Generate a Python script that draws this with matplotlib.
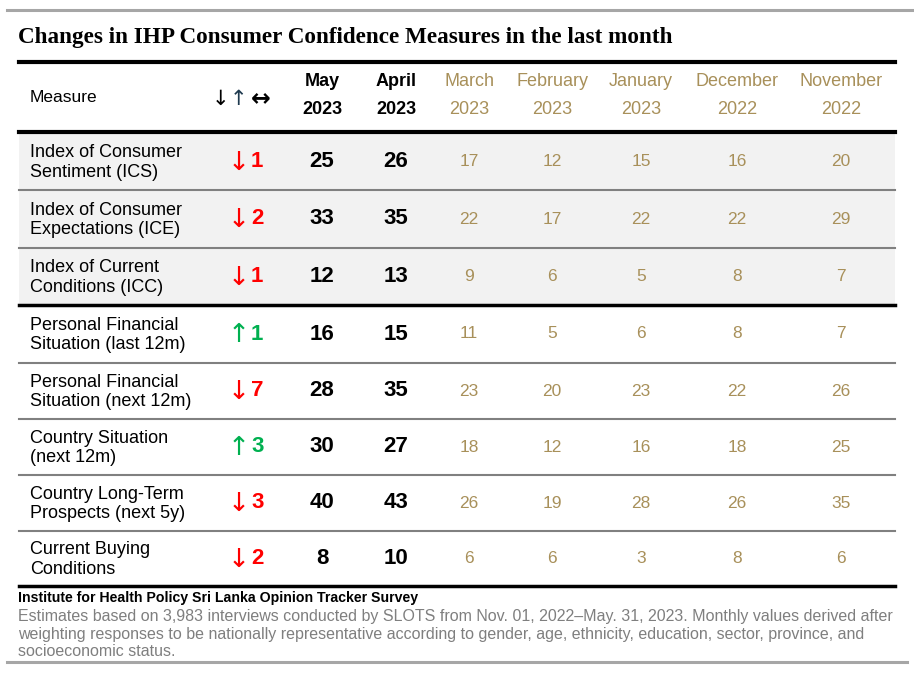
import numpy as np
import matplotlib.pyplot as plt

# table data
measures = ["Index of Consumer\nSentiment (ICS)",
            "Index of Consumer\nExpectations (ICE)",
            "Index of Current\nConditions (ICC)",
            "Personal Financial\nSituation (last 12m)",
            "Personal Financial\nSituation (next 12m)",
            "Country Situation\n(next 12m)",
            "Country Long-Term\nProspects (next 5y)",
            "Current Buying\nConditions"]
may_2023 = [25, 33, 12, 16, 28, 30, 40, 8]
april_2023 = [26, 35, 13, 15, 35, 27, 43, 10]
march_2023 = [17, 22, 9, 11, 23, 18, 26, 6]
february_2023 = [12, 17, 6, 5, 20, 12, 19, 6]
january_2023 = [15, 22, 5, 6, 23, 16, 28, 3]
december_2022 = [16, 22, 8, 8, 22, 18, 26, 8]
november_2022 = [20, 29, 7, 7, 26, 25, 35, 6]

old_months = ["March\n2023", "February\n2023", "January\n2023", "December\n2022", "November\n2022"]
old_values = [march_2023, february_2023, january_2023, december_2022, november_2022]

title = "Changes in IHP Consumer Confidence Measures in the last month"
source = "Institute for Health Policy Sri Lanka Opinion Tracker Survey"
note = ["Estimates based on 3,983 interviews conducted by SLOTS from Nov. 01, 2022\u2013May. 31, 2023. Monthly values derived after",
        "weighting responses to be nationally representative according to gender, age, ethnicity, education, sector, province, and",
        "socioeconomic status."]

SANS = ["Liberation Sans", "DejaVu Sans"]
ARROWS = ["DejaVu Sans"]
GOLD = "#a8905a"
RED = "#ff0000"
GREEN = "#00b050"

fig = plt.figure(figsize=(9.14, 6.73), dpi=100)
ax = fig.add_axes([0, 0, 1, 1])
ax.set_xlim(0, 914)
ax.set_ylim(673, 0)
ax.axis("off")

left, right = 19, 895
row_top = [133, 190, 248, 305, 363, 419, 475, 531]
row_bot = [190, 248, 305, 363, 419, 475, 531, 586]
col_x = [469, 552, 641, 737, 841]

# page rules
ax.plot([7, 914], [10, 10], color="#a6a6a6", lw=2.2)
ax.plot([7, 907], [662, 662], color="#a6a6a6", lw=2.2)

ax.text(18, 37, title, fontsize=16.7, fontweight="bold", family=["Liberation Serif", "DejaVu Serif"],
        va="center", ha="left")

# shaded index rows
for i in range(3):
    ax.add_patch(plt.Rectangle((left, row_top[i]), right - left, row_bot[i] - row_top[i],
                               color="#f2f2f2", lw=0, zorder=0))

# header
ax.plot([left, right], [62, 62], color="black", lw=3)
ax.plot([left, right], [132, 132], color="black", lw=3)
ax.text(30, 98, "Measure", fontsize=12.5, family=SANS, va="center")
ax.text(220, 99, "\u2193", fontsize=15, family=ARROWS, ha="center", va="center", color="black")
ax.text(238, 99, "\u2191", fontsize=15, family=ARROWS, ha="center", va="center", color="#1f3a4f")
ax.text(261, 98, "\u2194", fontsize=17, family=ARROWS, fontweight="bold", ha="center", va="center")
for x, lab in zip([322, 396], ["May\n2023", "April\n2023"]):
    top, bot = lab.split("\n")
    ax.text(x, 82, top, fontsize=13, fontweight="bold", family=SANS, ha="center", va="center")
    ax.text(x, 110, bot, fontsize=13, fontweight="bold", family=SANS, ha="center", va="center")
for x, lab in zip(col_x, old_months):
    top, bot = lab.split("\n")
    ax.text(x, 82, top, fontsize=13, color=GOLD, family=SANS, ha="center", va="center")
    ax.text(x, 110, bot, fontsize=13, color=GOLD, family=SANS, ha="center", va="center")

# body rows
for i, name in enumerate(measures):
    yc = (row_top[i] + row_bot[i]) / 2
    ax.text(30, yc + 1, name, fontsize=13, family=SANS, va="center", linespacing=1.2)
    diff = may_2023[i] - april_2023[i]
    col = GREEN if diff > 0 else RED
    arrow = "\u2191" if diff > 0 else "\u2193"
    ax.text(239, yc + 1, arrow, fontsize=19, color=col, family=ARROWS, ha="center", va="center")
    ax.text(251, yc, str(abs(diff)), fontsize=16, fontweight="bold", color=col, family=SANS,
            ha="left", va="center")
    ax.text(322, yc, str(may_2023[i]), fontsize=16, fontweight="bold", family=SANS, ha="center", va="center")
    ax.text(396, yc, str(april_2023[i]), fontsize=16, fontweight="bold", family=SANS, ha="center", va="center")
    for x, vals in zip(col_x, old_values):
        ax.text(x, yc, str(vals[i]), fontsize=12.5, color=GOLD, family=SANS, ha="center", va="center")

    if i < len(measures) - 1:
        if i == 2:
            ax.plot([left, right], [row_bot[i], row_bot[i]], color="black", lw=2.5)
        else:
            ax.plot([left, right], [row_bot[i], row_bot[i]], color="#808080", lw=1.5)
ax.plot([left, right], [586, 586], color="black", lw=2.5)

# footer
ax.text(18, 598, source, fontsize=10.2, fontweight="bold", family=SANS, va="center")
for k, line in enumerate(note):
    ax.text(18, 616 + 18 * k, line, fontsize=11.5, color="#7f7f7f", family=SANS, va="center")

fig.savefig("out.png", dpi=100)
